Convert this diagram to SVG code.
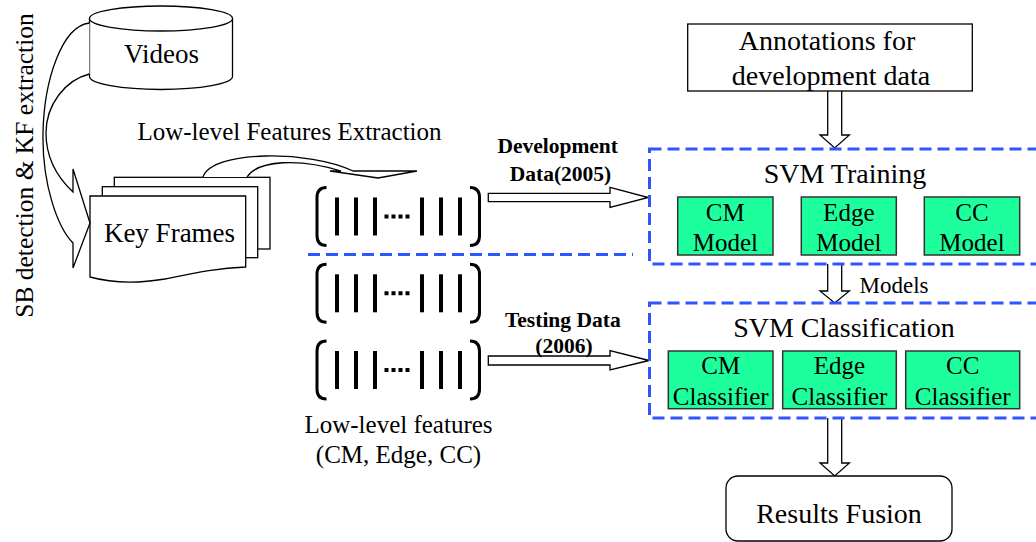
<svg xmlns="http://www.w3.org/2000/svg" width="1036" height="542" viewBox="0 0 1036 542" font-family="'Liberation Serif', serif">
<style>
.ln{fill:#fff;stroke:#000;stroke-width:1.3}
.t{font-family:'Liberation Serif', 'Times New Roman', serif;fill:#000;text-anchor:middle}
.b{font-weight:bold}
.dash{fill:none;stroke:#2f55ff;stroke-width:3;stroke-dasharray:12 6}
.grn{fill:#1dff9d;stroke:#333;stroke-width:1.5}
.br{fill:none;stroke:#000;stroke-width:3}
.bar{stroke:#000;stroke-width:4}
</style>
<defs>
<g id="vec">
<path class="br" d="M326.5,-29 C319.5,-29 317,-25 317,-19 L317,19 C317,25 319.5,29 326.5,29"/>
<path class="br" d="M470,-29 C477,-29 479.5,-25 479.5,-19 L479.5,19 C479.5,25 477,29 470,29"/>
<line class="bar" x1="337" y1="-19" x2="337" y2="19"/>
<line class="bar" x1="356" y1="-19" x2="356" y2="19"/>
<line class="bar" x1="375" y1="-19" x2="375" y2="19"/>
<line class="bar" x1="422" y1="-19" x2="422" y2="19"/>
<line class="bar" x1="441" y1="-19" x2="441" y2="19"/>
<line class="bar" x1="460" y1="-19" x2="460" y2="19"/>
<line x1="384.5" y1="0" x2="410" y2="0" stroke="#000" stroke-width="4" stroke-dasharray="4 3"/>
</g>
</defs>
<rect width="1036" height="542" fill="#fff"/>

<text class="t" font-size="25.5" transform="translate(33,165.5) rotate(-90)">SB detection &amp; KF extraction</text>

<g id="videos">
<path class="ln" d="M89.5,18.5 V76.5 A71.5,13 0 0 0 232.5,76.5 V18.5"/>
<ellipse class="ln" cx="161" cy="18.5" rx="71.5" ry="12.5"/>
<text class="t" font-size="27" x="161.5" y="63">Videos</text>
</g>

<g id="keyframes">
<rect class="ln" x="114.3" y="177.3" width="155.7" height="71.7"/>
<rect class="ln" x="102.3" y="186.7" width="155.4" height="71"/>
<path class="ln" d="M90,196 H245.7 V267 C215,268 190,274 165,279 C135,284 108,282 90,277 Z"/>
<text class="t" font-size="27" x="169.5" y="241.7">Key Frames</text>
</g>

<g id="connectors">
<path class="ln" d="M89.5,23 C62,26 44,80 43,133 C42,185 58,228 73,243 L73,268 L90,223 L73,169 L73,192 C58,178 46,158 46,133 C46,105 65,80 89.5,74"/>
<path class="ln" d="M203,177 C212,150 310,150 353,171 L417,171 L378,178 L330,171 L341,171 C300,158 258,160 247,177"/>
<path class="ln" d="M488.3,193.3 H610 V187.3 L648.3,197.5 L610,207.3 V201.7 H488.3 Z"/>
<path class="ln" d="M488.3,356 H610 V350.7 L649,360.5 L610,370 V365 H488.3 Z"/>
<path class="ln" d="M827.7,91 V135 H820 L834.7,148 L849.4,135 H841.7 V91"/>
<path class="ln" d="M827.7,264 V291 H820 L834.7,303 L849.4,291 H841.7 V264"/>
<path class="ln" d="M827.7,418 V463 H820 L834.7,476 L849.4,463 H841.7 V418"/>
<line class="dash" x1="308" y1="254.5" x2="633" y2="254.5"/>
</g>

<text class="t" font-size="25" x="289.5" y="139.5">Low-level Features Extraction</text>

<g id="vectors">
<use href="#vec" transform="translate(0,216.5)"/>
<use href="#vec" transform="translate(0,293.3)"/>
<use href="#vec" transform="translate(0,370)"/>
<text class="t" font-size="25" x="398.5" y="432.7">Low-level features</text>
<text class="t" font-size="25" x="398.5" y="462.7">(CM, Edge, CC)</text>
</g>

<g id="labels">
<text class="t b" font-size="21.5" x="557.7" y="153.3">Development</text>
<text class="t b" font-size="21.5" x="560.5" y="181">Data(2005)</text>
<text class="t b" font-size="21.5" x="562.8" y="327.3">Testing Data</text>
<text class="t b" font-size="21.5" x="564" y="353.3">(2006)</text>
<text class="t" font-size="23" x="894" y="293">Models</text>
</g>

<g id="annotations">
<rect class="ln" x="687.7" y="24" width="284.6" height="67"/>
<text class="t" font-size="28" x="827" y="50">Annotations for</text>
<text class="t" font-size="28" x="831" y="85">development data</text>
</g>

<g id="training">
<rect class="dash" x="649.5" y="149" width="400" height="115"/>
<text class="t" font-size="28" x="845" y="183">SVM Training</text>
<rect class="grn" x="677.7" y="197" width="95.3" height="58"/>
<text class="t" font-size="25" x="725.3" y="221">CM</text>
<text class="t" font-size="25" x="725.3" y="251">Model</text>
<rect class="grn" x="801.3" y="197" width="95" height="58"/>
<text class="t" font-size="25" x="848.8" y="221">Edge</text>
<text class="t" font-size="25" x="848.8" y="251">Model</text>
<rect class="grn" x="924.3" y="197" width="95.4" height="58"/>
<text class="t" font-size="25" x="972" y="221">CC</text>
<text class="t" font-size="25" x="972" y="251">Model</text>
</g>

<g id="classification">
<rect class="dash" x="649.5" y="303" width="400" height="115"/>
<text class="t" font-size="28" x="844" y="336.7">SVM Classification</text>
<rect class="grn" x="668.3" y="351" width="104.7" height="57.7"/>
<text class="t" font-size="25" x="720.7" y="374.3">CM</text>
<text class="t" font-size="25" x="720.7" y="405">Classifier</text>
<rect class="grn" x="782.7" y="351" width="113.6" height="57.7"/>
<text class="t" font-size="25" x="839.5" y="374.3">Edge</text>
<text class="t" font-size="25" x="839.5" y="405">Classifier</text>
<rect class="grn" x="905.7" y="351" width="114" height="57.7"/>
<text class="t" font-size="25" x="962.7" y="374.3">CC</text>
<text class="t" font-size="25" x="962.7" y="405">Classifier</text>
</g>

<g id="fusion">
<rect class="ln" x="726" y="476" width="226" height="65" rx="12"/>
<text class="t" font-size="28" x="839" y="523">Results Fusion</text>
</g>
</svg>
